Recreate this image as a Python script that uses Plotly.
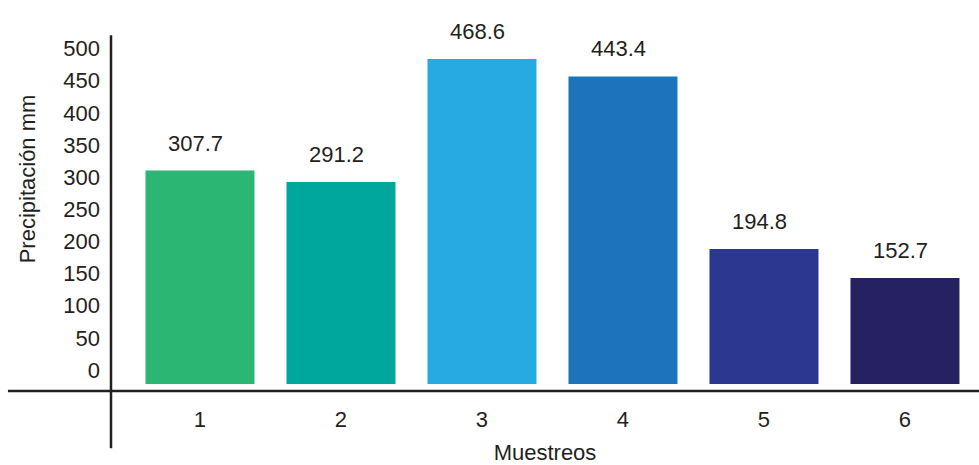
import plotly.graph_objects as go

muestreos = [1, 2, 3, 4, 5, 6]
precip_mm = [307.7, 291.2, 468.6, 443.4, 194.8, 152.7]
bar_colors = ["#2BB673", "#00A79D", "#27AAE1", "#1C75BC", "#2B388F", "#262262"]
y_tick_vals = [0, 50, 100, 150, 200, 250, 300, 350, 400, 450, 500]

FONT = "Liberation Sans Narrow, Arial Narrow, Liberation Sans, Arial, sans-serif"
INK = "#231F20"
FS = 22

fig = go.Figure()
fig.add_trace(go.Bar(
    x=muestreos, y=precip_mm,
    marker=dict(color=bar_colors, line=dict(width=0)),
    width=0.773, yaxis="y2", showlegend=False, hoverinfo="x+y",
))
# invisible trace to carry the labelled axis
fig.add_trace(go.Scatter(x=[None], y=[None], yaxis="y", showlegend=False))

for xv, v in zip(muestreos, precip_mm):
    fig.add_annotation(x=xv, y=v, xref="x", yref="y2", text=f"{v:.1f}",
                       showarrow=False, yanchor="bottom", yshift=13, xshift=-4,
                       font=dict(family=FONT, size=FS, color=INK))

fig.add_annotation(x=-0.096, y=0.58, xref="paper", yref="paper",
                   xanchor="center", yanchor="middle",
                   text="Precipitación mm", textangle=-90, showarrow=False,
                   font=dict(family=FONT, size=FS, color=INK))

fig.update_layout(
    width=979, height=465,
    margin=dict(l=111, r=0, t=30, b=81),
    paper_bgcolor="white", plot_bgcolor="white",
    font=dict(family=FONT, size=FS, color=INK),
    bargap=0.2,
    xaxis=dict(range=[0.369, 6.525], tickmode="array", tickvals=muestreos,
               ticktext=[str(m) for m in muestreos], showgrid=False, zeroline=False,
               showline=False, ticks="", ticklabelstandoff=20,
               title=dict(text="Muestreos", standoff=15,
                          font=dict(family=FONT, size=FS, color=INK))),
    yaxis=dict(range=[-21.8, 528.8], tickmode="array", tickvals=y_tick_vals,
               showgrid=False, zeroline=False, showline=False, ticks="",
               ticklabelstandoff=10),
    yaxis2=dict(range=[0, 510.4], overlaying="y", side="left", visible=False,
                showgrid=False, zeroline=False),
    shapes=[
        dict(type="line", xref="paper", yref="paper", x0=-0.1187, x1=1.0,
             y0=-0.0195, y1=-0.0195, line=dict(color=INK, width=2.5)),
        dict(type="line", xref="paper", yref="paper", x0=0, x1=0,
             y0=0.985, y1=-0.1816, line=dict(color=INK, width=2.5)),
    ],
)

fig.write_html("out.html")
